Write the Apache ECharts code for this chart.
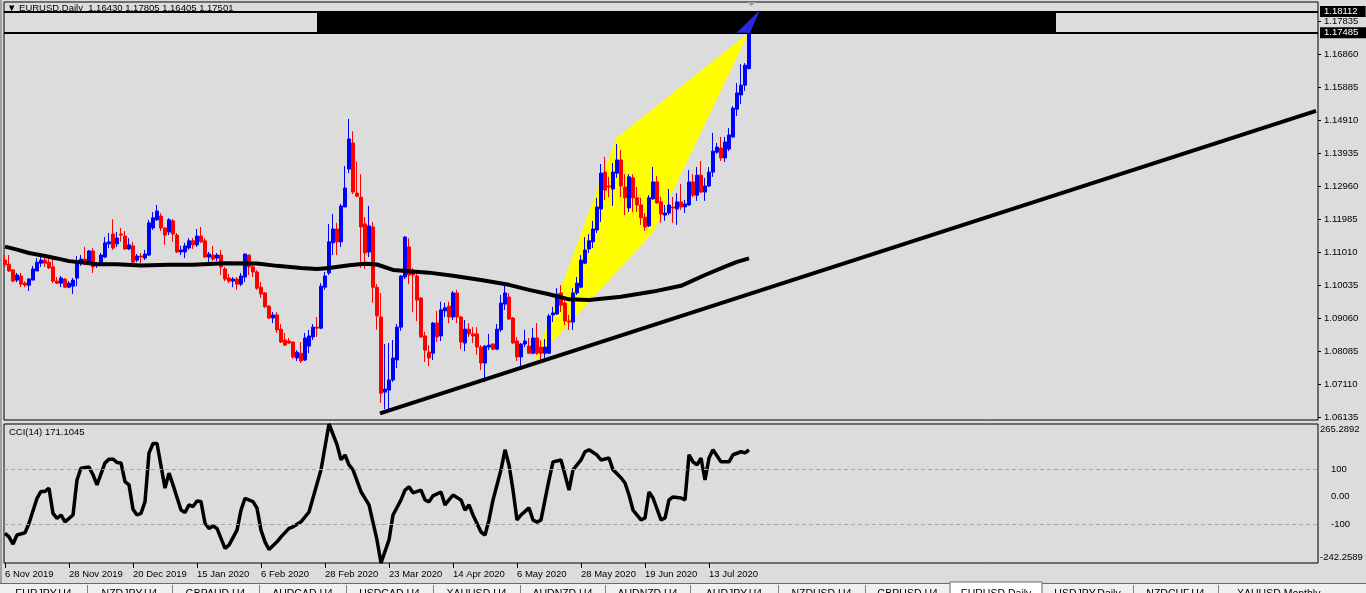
<!DOCTYPE html>
<html><head><meta charset="utf-8">
<script src="https://cdn.jsdelivr.net/npm/echarts@6/dist/echarts.min.js"></script>
<style>html,body{margin:0;padding:0;background:#dcdcdc;overflow:hidden}#c{width:1366px;height:593px}</style>
</head><body><div id="c"></div>
<script>
// ---- data (EURUSD Daily, bar 0 = 6 Nov 2019) ----
const open = [
1.1077,1.1065,1.1048,1.1018,1.1030,1.1009,1.1003,1.1018,1.1045,1.1068,
1.1077,1.1071,1.1057,1.1015,1.1009,1.1021,1.0997,1.1000,1.1024,1.1071,
1.1080,1.1071,1.1104,1.1063,1.1068,1.1086,1.1125,1.1154,1.1125,1.1154,
1.1148,1.1110,1.1119,1.1077,1.1089,1.1083,1.1092,1.1172,1.1196,1.1207,
1.1172,1.1160,1.1193,1.1151,1.1101,1.1101,1.1113,1.1134,1.1122,1.1148,
1.1134,1.1086,1.1092,1.1083,1.1092,1.1051,1.1024,1.1015,1.1021,1.1006,
1.1027,1.1092,1.1057,1.1042,1.0997,1.0980,1.0941,1.0906,1.0915,1.0873,
1.0841,1.0838,1.0835,1.0788,1.0802,1.0782,1.0823,1.0850,1.0879,1.0876,
1.0997,1.1039,1.1128,1.1169,1.1131,1.1234,1.1346,1.1423,1.1275,1.1263,
1.1184,1.1101,1.1175,1.0997,1.0909,1.0687,1.0693,1.0723,1.0782,1.0879,
1.1027,1.1116,1.1039,1.1030,1.0965,1.0853,1.0805,1.0802,1.0891,1.0853,
1.0927,1.0941,1.0909,1.0980,1.0909,1.0832,1.0873,1.0859,1.0859,1.0820,
1.0773,1.0820,1.0829,1.0814,1.0871,1.0947,1.0968,1.0906,1.0838,1.0791,
1.0829,1.0823,1.0802,1.0847,1.0820,1.0802,1.0802,1.0915,1.0918,1.0980,
1.0950,1.0897,1.0894,1.0980,1.0997,1.1068,1.1110,1.1131,1.1166,1.1228,
1.1337,1.1296,1.1287,1.1334,1.1373,1.1293,1.1231,1.1320,1.1261,1.1240,
1.1204,1.1178,1.1258,1.1308,1.1249,1.1210,1.1216,1.1234,1.1228,1.1249,
1.1234,1.1240,1.1308,1.1269,1.1328,1.1278,1.1296,1.1337,1.1396,1.1408,
1.1379,1.1405,1.1441,1.1523,1.1565,1.1594,1.16430];
const close = [
1.1063,1.1045,1.1015,1.1033,1.1006,1.1003,1.1021,1.1051,1.1071,1.1077,
1.1068,1.1054,1.1015,1.1009,1.1024,1.0997,1.1009,1.1018,1.1071,1.1080,
1.1071,1.1104,1.1057,1.1065,1.1092,1.1128,1.1131,1.1113,1.1142,1.1151,
1.1110,1.1122,1.1071,1.1089,1.1086,1.1095,1.1187,1.1202,1.1222,1.1172,
1.1151,1.1196,1.1154,1.1101,1.1107,1.1119,1.1134,1.1122,1.1148,1.1131,
1.1086,1.1095,1.1080,1.1092,1.1057,1.1021,1.1015,1.1021,1.1006,1.1030,
1.1095,1.1057,1.1042,1.0994,1.0977,1.0939,1.0906,1.0915,1.0871,1.0835,
1.0826,1.0832,1.0791,1.0805,1.0779,1.0847,1.0853,1.0879,1.0876,1.1000,
1.1030,1.1131,1.1169,1.1131,1.1237,1.1290,1.1435,1.1278,1.1266,1.1175,
1.1098,1.1178,1.0997,1.0912,1.0684,1.0696,1.0723,1.0788,1.0879,1.1030,
1.1145,1.1033,1.1033,1.0959,1.0850,1.0811,1.0788,1.0891,1.0850,1.0930,
1.0936,1.0909,1.0980,1.0909,1.0835,1.0873,1.0859,1.0853,1.0820,1.0773,
1.0823,1.0826,1.0814,1.0873,1.0950,1.0980,1.0903,1.0832,1.0791,1.0829,
1.0838,1.0802,1.0847,1.0802,1.0802,1.0820,1.0912,1.0921,1.0977,1.0944,
1.0897,1.0894,1.0980,1.1009,1.1077,1.1107,1.1134,1.1169,1.1234,1.1334,
1.1284,1.1293,1.1337,1.1373,1.1296,1.1261,1.1323,1.1261,1.1240,1.1202,
1.1175,1.1261,1.1308,1.1246,1.1213,1.1216,1.1240,1.1231,1.1249,1.1234,
1.1243,1.1308,1.1269,1.1328,1.1278,1.1296,1.1337,1.1399,1.1411,1.1379,
1.1426,1.1447,1.1526,1.1571,1.1594,1.1653,1.17501];
const low = [
1.1057,1.1042,1.1012,1.1012,1.0997,1.0997,1.0986,1.1018,1.1045,1.1057,
1.1057,1.1051,1.1009,1.1006,1.0997,1.0994,1.0994,1.0977,1.1000,1.1060,
1.1063,1.1063,1.1039,1.1054,1.1063,1.1083,1.1113,1.1107,1.1116,1.1131,
1.1107,1.1107,1.1068,1.1071,1.1068,1.1077,1.1089,1.1166,1.1193,1.1163,
1.1122,1.1151,1.1131,1.1098,1.1092,1.1083,1.1107,1.1110,1.1116,1.1128,
1.1083,1.1071,1.1074,1.1074,1.1033,1.1015,1.1009,1.0997,1.0989,1.1000,
1.1012,1.1033,1.1027,1.0989,1.0965,1.0936,1.0903,1.0891,1.0862,1.0832,
1.0823,1.0829,1.0785,1.0779,1.0773,1.0779,1.0802,1.0841,1.0850,1.0873,
1.0989,1.1033,1.1092,1.1092,1.1116,1.1234,1.1334,1.1272,1.1263,1.1054,
1.1051,1.1086,1.0951,1.0871,1.0655,1.0637,1.0634,1.0717,1.0758,1.0868,
1.1021,1.1006,1.0924,1.0897,1.0848,1.0776,1.0764,1.0782,1.0835,1.0838,
1.0909,1.0891,1.0900,1.0891,1.0814,1.0808,1.0850,1.0832,1.0797,1.0752,
1.0717,1.0811,1.0811,1.0811,1.0865,1.0930,1.0900,1.0830,1.0779,1.0761,
1.0820,1.0800,1.0799,1.0797,1.0773,1.0788,1.0800,1.0894,1.0915,1.0924,
1.0885,1.0871,1.0871,1.0974,1.0994,1.1065,1.1098,1.1113,1.1157,1.1190,
1.1255,1.1263,1.1237,1.1320,1.1263,1.1210,1.1219,1.1219,1.1219,1.1181,
1.1163,1.1175,1.1255,1.1244,1.1187,1.1193,1.1210,1.1187,1.1181,1.1225,
1.1216,1.1237,1.1263,1.1252,1.1275,1.1252,1.1293,1.1323,1.1391,1.1370,
1.1367,1.1399,1.1438,1.1503,1.1538,1.1577,1.16405];
const high = [
1.1092,1.1092,1.1051,1.1039,1.1039,1.1015,1.1024,1.1060,1.1083,1.1086,
1.1086,1.1086,1.1083,1.1027,1.1030,1.1024,1.1015,1.1024,1.1089,1.1092,
1.1116,1.1107,1.1113,1.1071,1.1098,1.1145,1.1157,1.1198,1.1160,1.1172,
1.1163,1.1142,1.1131,1.1095,1.1098,1.1107,1.1196,1.1219,1.1240,1.1216,
1.1175,1.1201,1.1198,1.1157,1.1119,1.1128,1.1142,1.1142,1.1169,1.1175,
1.1142,1.1101,1.1119,1.1098,1.1107,1.1057,1.1036,1.1027,1.1027,1.1039,
1.1096,1.1093,1.1068,1.1048,1.1012,1.0983,1.0944,1.0924,1.0924,1.0888,
1.0862,1.0847,1.0836,1.0811,1.0835,1.0862,1.0871,1.0888,1.0909,1.1009,
1.1042,1.1184,1.1213,1.1187,1.1243,1.1355,1.1494,1.1458,1.1367,1.1331,
1.1204,1.1237,1.1190,1.1006,1.0980,1.0829,1.0832,1.0841,1.0888,1.1033,
1.1148,1.1142,1.1054,1.1039,1.0968,1.0865,1.0826,1.0894,1.0927,1.0954,
1.0951,1.0954,1.0986,1.0989,1.0912,1.0900,1.0891,1.0879,1.0879,1.0826,
1.0826,1.0859,1.0832,1.0888,1.0974,1.1009,1.0980,1.0909,1.0850,1.0832,
1.0871,1.0847,1.0876,1.0891,1.0841,1.0844,1.0918,1.0939,1.0994,1.1003,
1.0962,1.0915,1.0994,1.1027,1.1092,1.1145,1.1154,1.1193,1.1261,1.1361,
1.1382,1.1323,1.1364,1.1420,1.1402,1.1331,1.1331,1.1331,1.1293,1.1261,
1.1216,1.1269,1.1352,1.1326,1.1264,1.1240,1.1287,1.1264,1.1275,1.1302,
1.1255,1.1343,1.1331,1.1352,1.1370,1.1320,1.1352,1.1453,1.1423,1.1441,
1.1441,1.1467,1.1532,1.1600,1.1656,1.1659,1.17805];

// moving average line, read at sampled bars [bar, price]
const maPoints = [[0,1.1117],[3,1.1108],[6,1.1098],[10,1.1089],[13,1.1082],[16,1.1074],[20,1.1069],[23,1.1065],
[28,1.1065],[34,1.1061],[41,1.1063],[47,1.1063],[55,1.1068],[63,1.1067],[68,1.1060],[74,1.1054],[78,1.1051],
[81,1.1054],[86,1.1062],[90,1.1066],[93,1.1064],[97,1.1048],[106,1.1040],[112,1.1031],[119,1.1018],[126,1.1004],
[131,1.0989],[136,1.0976],[141,1.0961],[146,1.0959],[154,1.0969],[162,1.0984],[169,1.1001],[175,1.1033],
[180,1.1058],[183,1.1072],[186,1.1082]];

// CCI(14) read at bars [bar, value]
const cciPoints = [[0,-134],[1,-147],[2,-173],[3,-140],[5,-132],[6,-97],[8,-6],[9,19],[10,19],[11,31],[12,-61],
[13,-79],[14,-67],[15,-92],[17,-67],[18,61],[19,104],[21,108],[22,80],[23,43],[25,123],[26,137],[27,137],[28,125],
[29,123],[30,55],[31,43],[32,-46],[33,-67],[34,-61],[35,-18],[36,159],[37,194],[38,194],[40,31],[41,86],[42,43],
[44,-49],[45,-58],[46,-30],[47,-36],[48,-16],[49,-18],[50,-97],[51,-116],[52,-107],[53,-116],[55,-189],[56,-177],
[58,-122],[59,-49],[60,-6],[62,-18],[63,-42],[64,-122],[65,-165],[66,-193],[68,-165],[69,-147],[71,-116],[72,-110],
[74,-92],[76,-56],[79,98],[81,265.2892],[83,190],[84,135],[85,152],[86,116],[87,98],[89,18],[91,-30],[93,-158],
[94,-242.2589],[96,-158],[97,-67],[99,-12],[100,24],[101,36],[102,14],[104,24],[105,-12],[106,-19],[107,3],[109,17],
[110,-30],[111,-12],[112,6],[114,-12],[115,-49],[116,-30],[117,-67],[119,-129],[120,-140],[121,-85],[122,-12],
[124,98],[125,171],[126,116],[127,24],[128,-85],[129,-67],[131,-41],[132,-85],[133,-93],[134,-85],[136,61],[137,127],
[139,134],[140,80],[141,24],[142,98],[144,134],[145,164],[146,171],[148,152],[149,134],[151,141],[152,98],[154,69],
[155,50],[156,6],[157,-49],[159,-85],[160,-78],[161,17],[162,-5],[164,-85],[165,-78],[166,-12],[167,-1],[169,-5],
[170,-12],[171,153],[172,127],[173,116],[174,141],[175,61],[176,141],[177,171],[179,127],[180,127],[181,127],
[182,153],[184,164],[185,160],[186,171.1045]];

const dateTickBars = [0,16,32,48,64,80,96,112,128,144,160,176];
const dateLabels = ['6 Nov 2019','28 Nov 2019','20 Dec 2019','15 Jan 2020','6 Feb 2020','28 Feb 2020',
  '23 Mar 2020','14 Apr 2020','6 May 2020','28 May 2020','19 Jun 2020','13 Jul 2020'];
const priceTicks = [1.06135,1.07110,1.08085,1.09060,1.10035,1.11010,1.11985,1.12960,1.13935,1.14910,1.15885,1.16860,1.17835];
const cciTicks = [265.2892,100,0,-100,-242.2589];
const cciLevels = [100,-100];
const levelLines = [1.18112,1.17485];
const trendLine = [[93.75,1.0624],[327.75,1.1518]];
const yellowTris = [
  [[132.25,1.0777],[152.75,1.1437],[162.1,1.1160]],
  [[152.75,1.1437],[185.9,1.1749],[162.1,1.1160]]
];
const blueTri = [[182.9,1.1749],[186.25,1.1749],[188.75,1.1816]];
const blackRect = [[78,1.17485],[262.75,1.18112]];
const header = '\u25BC EURUSD,Daily  1.16430 1.17805 1.16405 1.17501';
const cciTitle = 'CCI(14) 171.1045';
const tabNames = ['EURJPY,H4','NZDJPY,H4','GBPAUD,H4','AUDCAD,H4','USDCAD,H4','XAUUSD,H4','AUDNZD,H4','AUDNZD,H4',
  'AUDJPY,H4','NZDUSD,H4','GBPUSD,H4','EURUSD,Daily','USDJPY,Daily','NZDCHF,H4','XAUUSD,Monthly'];
const activeTab = 11;

// ---- chart ----
const FONT = "'Liberation Sans', Arial, sans-serif";
const FS = 9.5;
const X_MIN = -0.25, X_MAX = 328.25;
const candleData = open.map((o, i) => [i, o, close[i], low[i], high[i]]);

const tabEdges = [0,87,172,259,346,433,520,605,690,778,865,950,1042,1133,1218,1366];
const tabGraphics = [{type:'rect', shape:{x:0,y:583,width:1366,height:10}, style:{fill:'#f0f0f0'}, z:10},
  {type:'line', shape:{x1:0,y1:583.5,x2:1366,y2:583.5}, style:{stroke:'#696969',lineWidth:1}, z:11},
  {type:'rect', shape:{x:0,y:0,width:2,height:583}, style:{fill:'#a0a0a0'}, z:10}];
tabNames.forEach((n, k) => {
  const x0 = tabEdges[k], x1 = tabEdges[k+1];
  const last = k === tabNames.length - 1;
  if (k === activeTab) {
    tabGraphics.push({type:'rect', shape:{x:x0,y:582,width:x1-x0,height:12}, style:{fill:'#ffffff',stroke:'#696969',lineWidth:1}, z:12});
  } else if (k+1 !== activeTab && !last) {
    tabGraphics.push({type:'line', shape:{x1:x1+0.5,y1:585,x2:x1+0.5,y2:593}, style:{stroke:'#808080',lineWidth:1}, z:11});
  }
  tabGraphics.push({type:'text', x: last ? x0 + 19 : (x0+x1)/2, y:589,
    style:{text:n, fill:'#000', font:`${FS+1}px ${FONT}`, textAlign: last ? 'left' : 'center', textVerticalAlign:'top'}, z:13});
});

function polyItem(points, fill) {
  return (params, api) => ({type:'polygon', shape:{points: points.map(p => api.coord(p))}, style:{fill: fill}});
}

const option = {
  animation: false,
  backgroundColor: '#dcdcdc',
  textStyle: {fontFamily: FONT},
  grid: [
    {left:4, right:48, top:2, height:418, show:true, borderColor:'#000', borderWidth:1, backgroundColor:'transparent'},
    {left:4, right:48, top:424, height:139, show:true, borderColor:'#000', borderWidth:1, backgroundColor:'transparent'}
  ],
  xAxis: [
    {gridIndex:0, type:'value', min:X_MIN, max:X_MAX, show:false, axisLine:{onZero:false}},
    {gridIndex:1, type:'value', min:X_MIN, max:X_MAX, position:'bottom',
     axisLine:{show:false, onZero:false}, splitLine:{show:false},
     axisTick:{show:true, customValues:dateTickBars, length:5, lineStyle:{color:'#000'}},
     axisLabel:{customValues:dateTickBars, formatter: v => dateLabels[dateTickBars.indexOf(Math.round(v))] || '',
       align:'left', margin:6, fontSize:FS, color:'#000', fontFamily:FONT}}
  ],
  yAxis: [
    {gridIndex:0, type:'value', position:'right', min:1.06046, max:1.18396,
     axisLine:{show:false, onZero:false}, splitLine:{show:false},
     axisTick:{show:true, customValues:priceTicks, length:3, lineStyle:{color:'#000'}},
     axisLabel:{customValues:priceTicks, formatter: v => v.toFixed(5), margin:6, fontSize:FS, color:'#000', fontFamily:FONT}},
    {gridIndex:1, type:'value', position:'right', min:-242.2589, max:265.2892,
     axisLine:{show:false, onZero:false}, splitLine:{show:false}, axisTick:{show:false},
     axisLabel:{customValues:cciTicks, margin:2, color:'#000', fontSize:FS, fontFamily:FONT,
       formatter: v => {
         if (v > 200) return '{t|' + v.toFixed(4) + '}';
         if (v < -200) return '{b|' + v.toFixed(4) + '}';
         if (v === 0) return '{m|0.00}';
         return '{m|' + v + '}';
       },
       rich:{
         t:{padding:[11,0,0,0], fontSize:FS, color:'#000', fontFamily:FONT},
         b:{padding:[0,0,12,0], fontSize:FS, color:'#000', fontFamily:FONT},
         m:{padding:[0,0,0,11], fontSize:FS, color:'#000', fontFamily:FONT}
       }}}
  ],
  series: [
    {type:'custom', xAxisIndex:0, yAxisIndex:0, z:1, clip:true, silent:true, data:[[0,0]],
     renderItem:(params, api) => ({type:'group', children: yellowTris.map(t => ({type:'polygon',
       shape:{points:t.map(p => api.coord(p))}, style:{fill:'#ffff00'}}))})},
    {type:'candlestick', xAxisIndex:0, yAxisIndex:0, z:2, barWidth:3, data:candleData,
     encode:{x:0, y:[1,2,3,4]},
     itemStyle:{color:'#0000ff', color0:'#ff0000', borderColor:'#0000ff', borderColor0:'#ff0000', borderWidth:1}},
    {type:'line', xAxisIndex:0, yAxisIndex:0, z:3, data:maPoints, showSymbol:false, symbol:'none',
     lineStyle:{color:'#000', width:4}},
    {type:'line', xAxisIndex:0, yAxisIndex:0, z:3, data:trendLine, showSymbol:false, symbol:'none',
     lineStyle:{color:'#000', width:4}},
    {type:'custom', xAxisIndex:0, yAxisIndex:0, z:4, clip:true, silent:true, data:[[0,0]],
     renderItem:(params, api) => {
       const a = api.coord(blackRect[0]), b = api.coord(blackRect[1]);
       return {type:'rect', shape:{x:a[0], y:b[1], width:b[0]-a[0], height:a[1]-b[1]}, style:{fill:'#000'}};
     }},
    {type:'custom', xAxisIndex:0, yAxisIndex:0, z:5, clip:false, silent:true, data:[[0,0]],
     renderItem: polyItem(blueTri, '#2828e6')},
    {type:'line', xAxisIndex:0, yAxisIndex:0, z:6, data:[], silent:true,
     markLine:{silent:true, symbol:'none', animation:false, precision:5,
       lineStyle:{color:'#000', width:2, type:'solid'},
       label:{show:true, position:'end', distance:2, formatter: p => Number(p.value).toFixed(5),
         backgroundColor:'#000', color:'#fff', padding:[1,8,0,4], fontSize:FS, fontFamily:FONT},
       data: levelLines.map(v => ({yAxis:v}))}},
    {type:'line', xAxisIndex:1, yAxisIndex:1, z:3, data:cciPoints, showSymbol:false, symbol:'none',
     lineStyle:{color:'#000', width:3.5},
     markLine:{silent:true, symbol:'none', animation:false, label:{show:false}, precision:2,
       lineStyle:{color:'#a8a8a8', width:1, type:[4,3]},
       data: cciLevels.map(v => ({yAxis:v}))}}
  ],
  graphic: [
    {type:'text', left:7, top:3, z:1, style:{text:header, fill:'#000', font:`${FS}px ${FONT}`}},
    {type:'text', left:9, top:427, z:10, style:{text:cciTitle, fill:'#000', font:`${FS}px ${FONT}`}},
    {type:'polygon', shape:{points:[[747,2],[756,2],[751.5,6]]}, style:{fill:'#a0a0a0'}, z:10}
  ].concat(tabGraphics)
};
const chart = echarts.init(document.getElementById('c'));
chart.setOption(option);
</script>
</body></html>
